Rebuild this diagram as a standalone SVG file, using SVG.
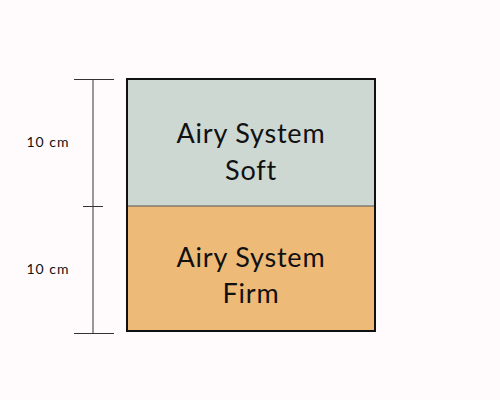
<svg xmlns="http://www.w3.org/2000/svg" width="500" height="400" viewBox="0 0 500 400">
<style>
.lbl{font-family:"Lato","Open Sans",sans-serif;font-size:27px;fill:#111;text-anchor:middle;letter-spacing:0.8px}
.dim{font-family:"Lato","Open Sans",sans-serif;font-size:14px;fill:#111;text-anchor:middle;letter-spacing:1px}
.ln{stroke:#333;stroke-width:1;fill:none}
</style>
<rect width="500" height="400" fill="#fffbfc"/>
<g id="soft">
<rect x="127" y="79" width="248" height="127" fill="#cdd8d2"/>
<text class="lbl" x="251" y="143">Airy System</text>
<text class="lbl" x="251" y="180">Soft</text>
</g>
<g id="firm">
<rect x="127" y="206" width="248" height="125" fill="#eeba78"/>
<text class="lbl" x="251" y="267">Airy System</text>
<text class="lbl" x="251" y="303">Firm</text>
</g>
<g id="frame">
<line x1="127" y1="206" x2="375" y2="206" stroke="#555" stroke-width="1.2"/>
<rect x="127" y="79" width="248" height="252" fill="none" stroke="#111" stroke-width="2"/>
</g>
<g id="connectors">
<line class="ln" x1="93" y1="79" x2="93" y2="333" stroke="#777"/>
<line class="ln" x1="74" y1="79.5" x2="114" y2="79.5"/>
<line class="ln" x1="83" y1="206.5" x2="103" y2="206.5"/>
<line class="ln" x1="74" y1="333.5" x2="114" y2="333.5"/>
</g>
<g id="dims">
<text class="dim" x="48" y="147">10 cm</text>
<text class="dim" x="48" y="274">10 cm</text>
</g>
</svg>
